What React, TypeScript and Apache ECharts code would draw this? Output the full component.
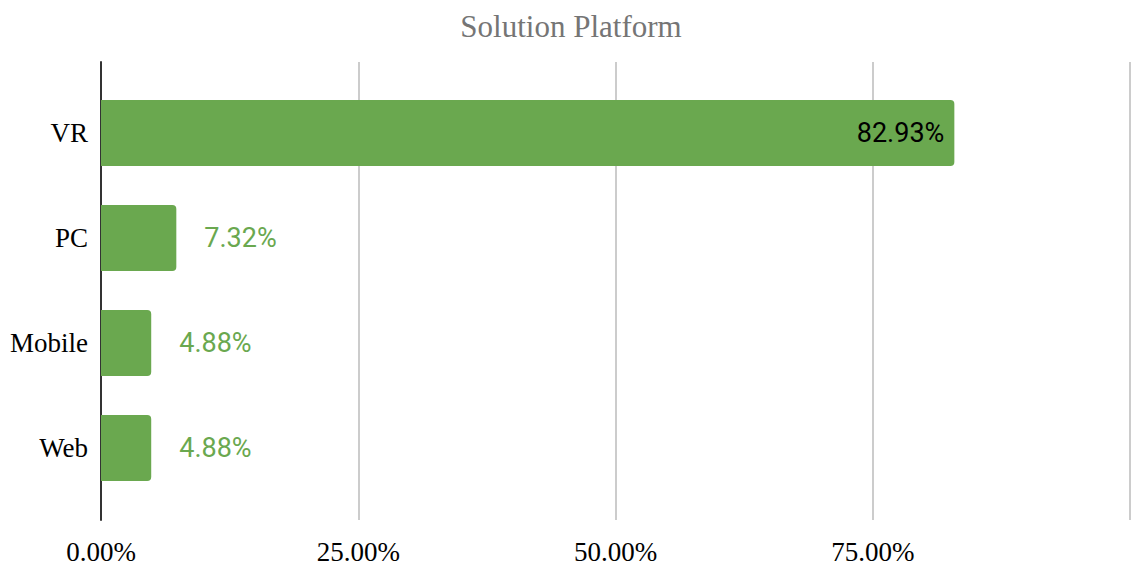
import React, { useEffect, useRef } from "react";
import * as echarts from "echarts";

const categories = ["VR", "PC", "Mobile", "Web"];
const values = [82.93, 7.32, 4.88, 4.88];
const xTicks = [0, 25, 50, 75, 100];
const titleText = "Solution Platform";

export default function App() {
  const ref = useRef<HTMLDivElement>(null);
  useEffect(() => {
    if (!ref.current) return;
    const chart = echarts.init(ref.current, undefined, { renderer: "svg" });
    const green = "#6aa84f";
    const xMin = xTicks[0];
    const xMax = xTicks[xTicks.length - 1];
    chart.setOption({
      animation: false,
      title: {
        text: titleText,
        left: "center",
        top: 6,
        textStyle: {
          fontFamily: "Liberation Serif",
          fontWeight: "normal",
          fontSize: 31,
          color: "#757575",
        },
      },
      grid: [
        { left: 101, right: 12, top: 62, bottom: 53, containLabel: false },
        { left: 101, right: 12, top: 80.5, bottom: 72.5, containLabel: false },
      ],
      xAxis: [
        {
          type: "value",
          gridIndex: 0,
          min: xMin,
          max: xMax,
          interval: 25,
          axisLine: { show: false },
          axisTick: { show: false },
          splitLine: { show: true, lineStyle: { color: "#cccccc", width: 2 } },
          axisLabel: {
            margin: 18,
            fontFamily: "Liberation Serif",
            fontSize: 27,
            color: "#000",
            formatter: (v: number) => (v >= 100 ? "" : v.toFixed(2) + "%"),
          },
        },
        {
          type: "value",
          gridIndex: 1,
          min: xMin,
          max: xMax,
          interval: 25,
          show: false,
        },
      ],
      yAxis: [
        {
          type: "category",
          gridIndex: 0,
          data: categories,
          inverse: true,
          axisLine: { show: true, lineStyle: { color: "#333333", width: 2 } },
          axisTick: { show: false },
          axisLabel: { show: false },
        },
        {
          type: "category",
          gridIndex: 1,
          data: categories,
          inverse: true,
          axisLine: { show: false },
          axisTick: { show: false },
          axisLabel: {
            margin: 13,
            fontFamily: "Liberation Serif",
            fontSize: 27,
            color: "#000",
          },
        },
      ],
      series: [
        {
          type: "bar",
          xAxisIndex: 1,
          yAxisIndex: 1,
          barWidth: 66,
          data: values.map((v, i) => ({
            value: v,
            label:
              i === 0
                ? {
                    show: true,
                    position: "insideRight",
                    distance: 10,
                    color: "#000",
                  }
                : {
                    show: true,
                    position: "right",
                    distance: 28,
                    color: green,
                  },
          })),
          itemStyle: { color: green, borderRadius: [0, 4, 4, 0] },
          label: {
            fontFamily: "Roboto",
            fontSize: 27,
            formatter: (p: any) => p.value.toFixed(2) + "%",
          },
        },
      ],
    });
    return () => chart.dispose();
  }, []);
  return <div ref={ref} style={{ width: 1142, height: 573, margin: -8 }} />;
}
